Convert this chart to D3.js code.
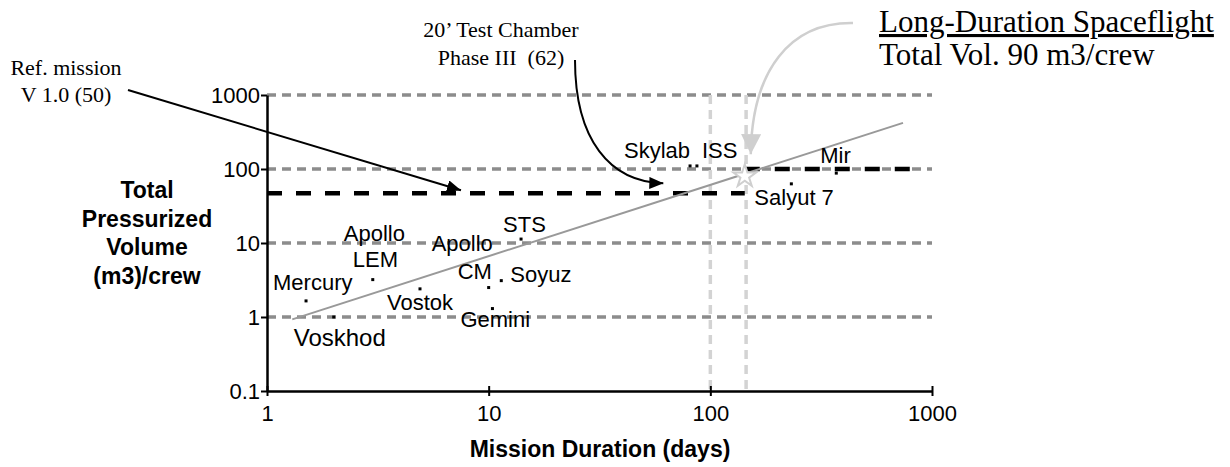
<!DOCTYPE html>
<html>
<head>
<meta charset="utf-8">
<script src="https://cdn.jsdelivr.net/npm/d3@7"></script>
<style>
  body { margin: 0; background: #fff; }
  svg { display: block; }
  .sans { font-family: "Liberation Sans", Arial, sans-serif; }
  .serif { font-family: "Liberation Serif", "Times New Roman", serif; }
</style>
</head>
<body>
<div id="chart"></div>
<script>
// mission data (days, m3 per crew member)
const missions = ['Mercury', 'Voskhod', 'Apollo LEM', 'Vostok', 'Apollo CM', 'Gemini', 'Soyuz', 'STS', 'Skylab', 'ISS', 'Salyut 7', 'Mir'];
const durations = [1.5, 2, 3, 4.9, 10, 10.4, 11.4, 14, 81, 87, 232, 370];
const volumes = [1.65, 1.0, 3.2, 2.4, 2.5, 1.3, 3.1, 11.3, 110, 110, 63, 88];

// trend line end points
const trendDays = [1.3, 740];
const trendVolume = [0.93, 420];

// reference levels
const refDays = [1, 143];
const refVolume = 47;
const longDays = [143, 800];
const longVolume = 100;
const markerDays = [100, 145];
const starPoint = [143, 80];

const xTicks = [1, 10, 100, 1000];
const yTicks = [0.1, 1, 10, 100, 1000];
const gridValues = [1, 10, 100, 1000];

const width = 1230;
const height = 467;

const svg = d3.select('#chart').append('svg')
  .attr('width', width)
  .attr('height', height);

const x = d3.scaleLog().domain([1, 1000]).range([267, 932]);
const y = d3.scaleLog().domain([0.1, 1000]).range([391, 95]);

const defs = svg.append('defs');
function arrowHead(id, color, len, half) {
  defs.append('marker')
    .attr('id', id)
    .attr('markerUnits', 'userSpaceOnUse')
    .attr('viewBox', `0 ${-half} ${len} ${half * 2}`)
    .attr('refX', len)
    .attr('refY', 0)
    .attr('markerWidth', len)
    .attr('markerHeight', half * 2)
    .attr('orient', 'auto')
    .append('path')
    .attr('d', `M0,${-half}L${len},0L0,${half}Z`)
    .attr('fill', color);
}
arrowHead('headBlack', '#000', 14, 6);
arrowHead('headGray', '#cfcfcf', 20, 10);

// horizontal gray grid lines
svg.append('g')
  .selectAll('line')
  .data(gridValues)
  .join('line')
  .attr('x1', x(1))
  .attr('x2', x(1000))
  .attr('y1', (d) => y(d))
  .attr('y2', (d) => y(d))
  .attr('stroke', '#8c8c8c')
  .attr('stroke-width', 3.5)
  .attr('stroke-dasharray', '9,6');

// vertical light dashes
svg.append('g')
  .selectAll('line')
  .data(markerDays)
  .join('line')
  .attr('x1', (d) => x(d))
  .attr('x2', (d) => x(d))
  .attr('y1', y(1000))
  .attr('y2', y(0.1))
  .attr('stroke', '#d3d3d3')
  .attr('stroke-width', 3.5)
  .attr('stroke-dasharray', '9,6');

// black reference levels
svg.append('line')
  .attr('x1', x(refDays[0]))
  .attr('x2', x(refDays[1]))
  .attr('y1', y(refVolume))
  .attr('y2', y(refVolume))
  .attr('stroke', '#000')
  .attr('stroke-width', 4.3)
  .attr('stroke-dasharray', '15,14');

svg.append('line')
  .attr('x1', x(longDays[0]))
  .attr('x2', x(longDays[1]))
  .attr('y1', y(longVolume))
  .attr('y2', y(longVolume))
  .attr('stroke', '#000')
  .attr('stroke-width', 4.3)
  .attr('stroke-dasharray', '15,15');

// trend line
svg.append('line')
  .attr('x1', x(trendDays[0]))
  .attr('y1', y(trendVolume[0]))
  .attr('x2', x(trendDays[1]))
  .attr('y2', y(trendVolume[1]))
  .attr('stroke', '#999')
  .attr('stroke-width', 2);

svg.append('path')
  .attr('d', d3.symbol(d3.symbolStar, 160)())
  .attr('transform', `translate(${x(starPoint[0])},${y(starPoint[1])})`)
  .attr('fill', '#fff')
  .attr('stroke', '#cfcfcf')
  .attr('stroke-width', 2);

// mission dots
svg.append('g')
  .selectAll('rect')
  .data(missions)
  .join('rect')
  .attr('x', (d, i) => x(durations[i]) - 1.5)
  .attr('y', (d, i) => y(volumes[i]) - 1.5)
  .attr('width', 3)
  .attr('height', 3)
  .attr('fill', '#000');

// label offsets from each dot: [dx, dy, text] lines
const labelLayout = {
  'Mercury': [[-33, -11, 'Mercury']],
  'Voskhod': [[-40, 29, 'Voskhod']],
  'Apollo LEM': [[-29, -39, 'Apollo'], [-20, -13, 'LEM']],
  'Vostok': [[-33, 21, 'Vostok']],
  'Apollo CM': [[-57, -37, 'Apollo'], [-31, -9, 'CM']],
  'Gemini': [[-32, 18, 'Gemini']],
  'Soyuz': [[9, 1, 'Soyuz']],
  'STS': [[-18, -7, 'STS']],
  'Skylab': [[-66, -8, 'Skylab']],
  'ISS': [[5, -8, 'ISS']],
  'Salyut 7': [[-37, 21, 'Salyut 7']],
  'Mir': [[-16, -10, 'Mir']]
};

const labels = svg.append('g').attr('class', 'sans');
missions.forEach((m, i) => {
  for (const [dx, dy, t] of labelLayout[m]) {
    labels.append('text')
      .attr('x', x(durations[i]) + dx)
      .attr('y', y(volumes[i]) + dy)
      .attr('font-size', m === 'Voskhod' ? 24 : 22)
      .attr('fill', '#000')
      .text(t);
  }
});

// axes
const fmt = (d) => String(d);
const xAxis = svg.append('g')
  .attr('class', 'sans')
  .attr('transform', `translate(0,${y(0.1)})`)
  .call(d3.axisBottom(x).tickValues(xTicks).tickFormat(fmt).tickSize(5).tickSizeOuter(0).tickPadding(9));
xAxis.selectAll('.tick line').attr('y1', -5).attr('stroke-width', 2);
xAxis.select('.domain').attr('stroke-width', 2.5);

const yAxis = svg.append('g')
  .attr('class', 'sans')
  .attr('transform', `translate(${x(1)},0)`)
  .call(d3.axisLeft(y).tickValues(yTicks).tickFormat(fmt).tickSize(6).tickSizeOuter(0).tickPadding(1));
yAxis.selectAll('.tick line').attr('stroke-width', 2);
yAxis.select('.domain').attr('stroke-width', 2.5);

svg.selectAll('.tick text')
  .attr('font-size', 22)
  .attr('font-family', '"Liberation Sans", Arial, sans-serif')
  .attr('fill', '#000');

// axis titles
const yTitle = svg.append('text')
  .attr('class', 'sans')
  .attr('text-anchor', 'middle')
  .attr('font-size', 23)
  .attr('font-weight', 'bold');
['Total', 'Pressurized', 'Volume', '(m3)/crew'].forEach((t, i) => {
  yTitle.append('tspan').attr('x', 147).attr('y', 198 + i * 28.5).text(t);
});

svg.append('text')
  .attr('class', 'sans')
  .attr('x', 600)
  .attr('y', 457)
  .attr('text-anchor', 'middle')
  .attr('font-size', 23)
  .attr('font-weight', 'bold')
  .text('Mission Duration (days)');

// annotations
const ref = svg.append('text')
  .attr('class', 'serif')
  .attr('text-anchor', 'middle')
  .attr('font-size', 22);
ref.append('tspan').attr('x', 66).attr('y', 75).text('Ref. mission');
ref.append('tspan').attr('x', 66).attr('y', 102).text('V 1.0 (50)');

svg.append('line')
  .attr('x1', 128).attr('y1', 90)
  .attr('x2', x(7.5)).attr('y2', y(refVolume) - 3)
  .attr('stroke', '#000')
  .attr('stroke-width', 2)
  .attr('marker-end', 'url(#headBlack)');

const chamber = svg.append('text')
  .attr('class', 'serif')
  .attr('text-anchor', 'middle')
  .attr('font-size', 22);
chamber.append('tspan').attr('x', 501).attr('y', 37).text('20\u2019 Test Chamber');
chamber.append('tspan').attr('x', 501).attr('y', 65).attr('xml:space', 'preserve').text('Phase III\u00a0 (62)');

svg.append('path')
  .attr('d', `M575,60 C575,140 610,182 ${x(62) - 1},${y(refVolume) - 10}`)
  .attr('fill', 'none')
  .attr('stroke', '#000')
  .attr('stroke-width', 2)
  .attr('marker-end', 'url(#headBlack)');

const longText = svg.append('text')
  .attr('class', 'serif')
  .attr('font-size', 31)
  .attr('fill', '#000');
longText.append('tspan').attr('x', 879).attr('y', 32)
  .attr('text-decoration', 'underline')
  .text('Long-Duration Spaceflight');
longText.append('tspan').attr('x', 879).attr('y', 65).text('Total Vol. 90 m3/crew');

svg.append('path')
  .attr('d', `M853,23 C790,22 752,70 ${x(starPoint[0]) + 6},${y(starPoint[1]) - 22}`)
  .attr('fill', 'none')
  .attr('stroke', '#cfcfcf')
  .attr('stroke-width', 2.5)
  .attr('marker-end', 'url(#headGray)');
</script>
</body>
</html>
